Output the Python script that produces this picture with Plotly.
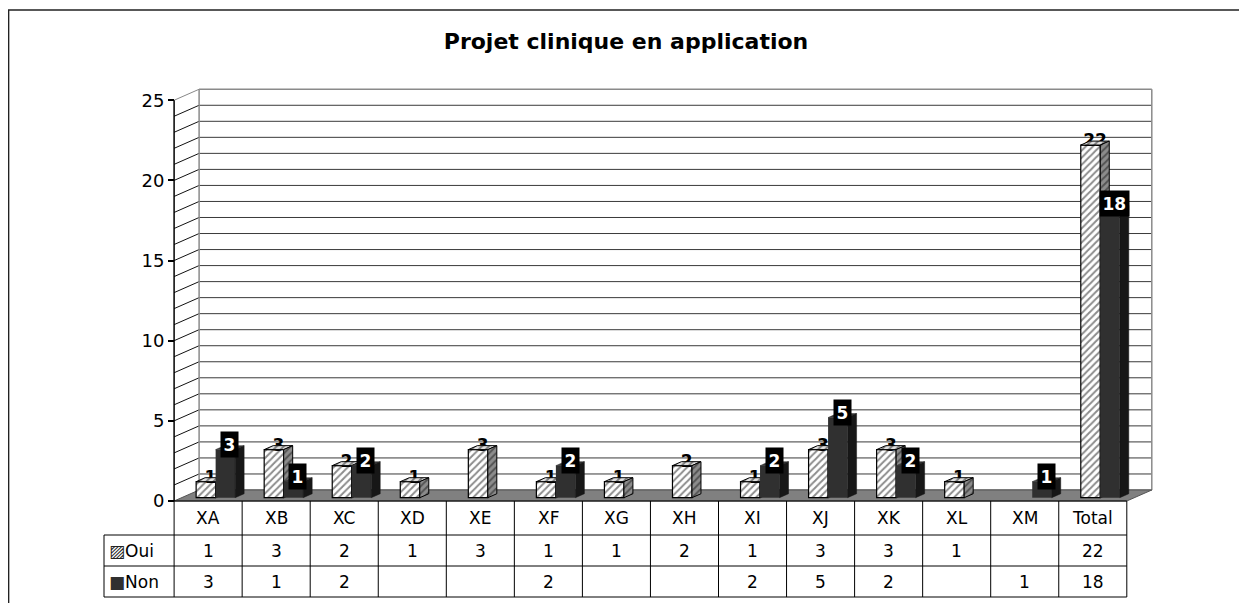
import plotly.graph_objects as go

categories = ["XA", "XB", "XC", "XD", "XE", "XF", "XG", "XH", "XI", "XJ", "XK", "XL", "XM", "Total"]
oui = [1, 3, 2, 1, 3, 1, 1, 2, 1, 3, 3, 1, None, 22]
non = [3, 1, 2, None, None, 2, None, None, 2, 5, 2, None, 1, 18]
series_names = ["Oui", "Non"]
y_ticks = [0, 5, 10, 15, 20, 25]
y_top = 25
title = "Projet clinique en application"

FONT = "DejaVu Sans"
PAGE_OFF = 8                      # default body margin of the html page
W_FIG, H_FIG = 1247 - PAGE_OFF, 603 - PAGE_OFF

# pixel scale of the fake 3d chart (screen pixels)
PX_X, PX_Y = 68.05, 16.03
LEFT_PX, ZERO_PX = 174.1, 501


def to_x(px):
    return -0.5 + (px - LEFT_PX) / PX_X


def to_y(py):
    return (ZERO_PX - py) / PX_Y


DX, DY = 25 / PX_X, 11 / PX_Y          # depth of the walls
F0, F1 = 0.3, 0.66                     # bars sit between these depth fractions
BW = 19.5 / PX_X                       # bar width
BDX, BDY = (F1 - F0) * DX, (F1 - F0) * DY
BASE = F0 * DY
SHIFT = F0 * DX
n = len(categories)
xs = [i + SHIFT for i in range(n)]


def faces(values, left):
    top_x, top_y, side_x, side_y = [], [], [], []
    for i, v in enumerate(values):
        if v is None:
            continue
        xl = xs[i] + left
        xr = xl + BW
        t = BASE + v
        top_x += [xl, xr, xr + BDX, xl + BDX, xl, None]
        top_y += [t, t, t + BDY, t + BDY, t, None]
        side_x += [xr, xr + BDX, xr + BDX, xr, xr, None]
        side_y += [BASE, BASE + BDY, t + BDY, t, BASE, None]
    return top_x, top_y, side_x, side_y


def hatch(bg):
    return dict(shape="/", fgcolor="#1a1a1a", bgcolor=bg, size=5, solidity=0.4)


fig = go.Figure()

# Oui: front face, labels, then top and side faces (main subplot)
fig.add_trace(go.Bar(
    x=xs, y=oui, base=BASE, width=BW, offset=-BW, name=series_names[0],
    marker=dict(color="white", line=dict(color="black", width=1.2), pattern=hatch("white")),
    hoverinfo="skip",
))
lab = [(xs[i] - BW / 2 + BDX / 2, BASE + v + BDY - 0.05, str(v)) for i, v in enumerate(oui) if v is not None]
fig.add_trace(go.Scatter(
    x=[a[0] for a in lab], y=[a[1] for a in lab], text=[a[2] for a in lab], mode="text",
    textposition="middle center", textfont=dict(family=FONT, size=17, color="black", weight="bold"),
    hoverinfo="skip",
))
tx, ty, sx, sy = faces(oui, -BW)
fig.add_trace(go.Scatter(x=tx, y=ty, mode="lines", fill="toself", fillcolor="white", fillpattern=hatch("#e0e0e0"),
                         line=dict(color="black", width=1), hoverinfo="skip"))
fig.add_trace(go.Scatter(x=sx, y=sy, mode="lines", fill="toself", fillcolor="#8c8c8c", fillpattern=hatch("#8c8c8c"),
                         line=dict(color="black", width=1), hoverinfo="skip"))

# Non: overlay subplot so it is painted over the Oui side faces
fig.add_trace(go.Bar(
    x=xs, y=non, base=BASE, width=BW, offset=0, name=series_names[1],
    marker=dict(color="#303030", line=dict(width=0)), xaxis="x2", yaxis="y2", hoverinfo="skip",
))
tx, ty, sx, sy = faces(non, 0)
fig.add_trace(go.Scatter(x=tx, y=ty, mode="lines", fill="toself", fillcolor="#3a3a3a",
                         line=dict(color="#2a2a2a", width=0.5), xaxis="x2", yaxis="y2", hoverinfo="skip"))
fig.add_trace(go.Scatter(x=sx, y=sy, mode="lines", fill="toself", fillcolor="#171717",
                         line=dict(color="#171717", width=0.5), xaxis="x2", yaxis="y2", hoverinfo="skip"))

shapes = []
x_first, x_last = -0.5, n - 0.5
# back wall grid
for v in range(0, y_top + 1):
    col = "#8a8a8a" if v == y_top else "#3a3a3a"
    shapes.append(dict(type="line", x0=x_first + DX, x1=x_last + DX, y0=v + DY, y1=v + DY,
                       line=dict(color=col, width=1.3 if v == y_top else 1), layer="below"))
    if v > 0:
        shapes.append(dict(type="line", x0=x_first, x1=x_first + DX, y0=v, y1=v + DY,
                           line=dict(color="#888888" if v == y_top else "#111111", width=1), layer="below"))
for xe in (x_first + DX, x_last + DX):
    shapes.append(dict(type="line", x0=xe, x1=xe, y0=DY, y1=y_top + DY,
                       line=dict(color="#8a8a8a", width=1.5), layer="below"))
# floor
shapes.append(dict(type="path", layer="below", fillcolor="#808080", line=dict(color="#555555", width=1),
                   path=f"M {x_first},0 L {x_last},0 L {x_last + DX},{DY} L {x_first + DX},{DY} Z"))
# y axis line
shapes.append(dict(type="line", x0=x_first, x1=x_first, y0=0, y1=y_top, line=dict(color="black", width=1.5)))

# data table
rows_px = [501, 535, 566, 597]
row_y = [to_y(p) for p in rows_px]
leg_x = to_x(104)
for k, yv in enumerate(row_y):
    shapes.append(dict(type="line", x0=x_first if k == 0 else leg_x, x1=x_last, y0=yv, y1=yv,
                       line=dict(color="black", width=1)))
for k in range(n + 1):
    shapes.append(dict(type="line", x0=x_first + k, x1=x_first + k, y0=row_y[0], y1=row_y[-1],
                       line=dict(color="black", width=1)))
shapes.append(dict(type="line", x0=leg_x, x1=leg_x, y0=row_y[1], y1=row_y[-1], line=dict(color="black", width=1)))
# chart frame
shapes.append(dict(type="rect", xref="paper", yref="paper", x0=0.6 / W_FIG, x1=1.02, y0=-0.05,
                   y1=1 - (10 - PAGE_OFF) / H_FIG, line=dict(color="#222222", width=1.5)))

ann = []
cell_font = dict(family=FONT, size=17, color="black")
mid = [(row_y[k] + row_y[k + 1]) / 2 for k in range(3)]
for i, c in enumerate(categories):
    ann.append(dict(x=i, y=mid[0], text=c, showarrow=False, font=cell_font))
    ann.append(dict(x=i, y=mid[1], text="" if oui[i] is None else str(oui[i]), showarrow=False, font=cell_font))
    ann.append(dict(x=i, y=mid[2], text="" if non[i] is None else str(non[i]), showarrow=False, font=cell_font))
ann.append(dict(x=to_x(107), y=mid[1], xanchor="left", showarrow=False, font=cell_font,
                text="<span style='color:#222222'>▨</span>" + series_names[0]))
ann.append(dict(x=to_x(107), y=mid[2], xanchor="left", showarrow=False, font=cell_font,
                text="<span style='color:#303030'>■</span>" + series_names[1]))
# Non value labels: white on black
for i, v in enumerate(non):
    if v is None:
        continue
    ann.append(dict(x=xs[i] + BW / 2 + BDX / 2, y=BASE + v + BDY / 2 + 0.2, text=f"<b>{v}</b>", showarrow=False,
                    bgcolor="black", borderpad=2.5, font=dict(family=FONT, size=17, color="white"),
                    xref="x2", yref="y2"))

xr = [to_x(PAGE_OFF), to_x(PAGE_OFF + W_FIG)]
yr = [to_y(PAGE_OFF + H_FIG), to_y(PAGE_OFF)]
fig.update_layout(
    width=W_FIG, height=H_FIG,
    margin=dict(l=0, r=0, t=0, b=0),
    paper_bgcolor="white", plot_bgcolor="white",
    showlegend=False, barmode="overlay",
    title=dict(text=f"<b>{title}</b>", x=(626 - PAGE_OFF) / W_FIG, y=1 - (41 - PAGE_OFF) / H_FIG,
               xanchor="center", yanchor="middle", font=dict(family=FONT, size=22, color="black")),
    xaxis=dict(range=xr, visible=False, fixedrange=True),
    yaxis=dict(range=yr, anchor="free", position=(LEFT_PX - PAGE_OFF) / W_FIG, tickvals=y_ticks, ticks="outside",
               ticklen=6, tickwidth=1.5, tickcolor="black", showgrid=False, zeroline=False, showline=False,
               tickfont=dict(family=FONT, size=18, color="black"), fixedrange=True),
    xaxis2=dict(range=xr, overlaying="x", visible=False, fixedrange=True),
    yaxis2=dict(range=yr, overlaying="y", visible=False, fixedrange=True),
    shapes=shapes,
    annotations=ann,
)

fig.write_html("out.html")
